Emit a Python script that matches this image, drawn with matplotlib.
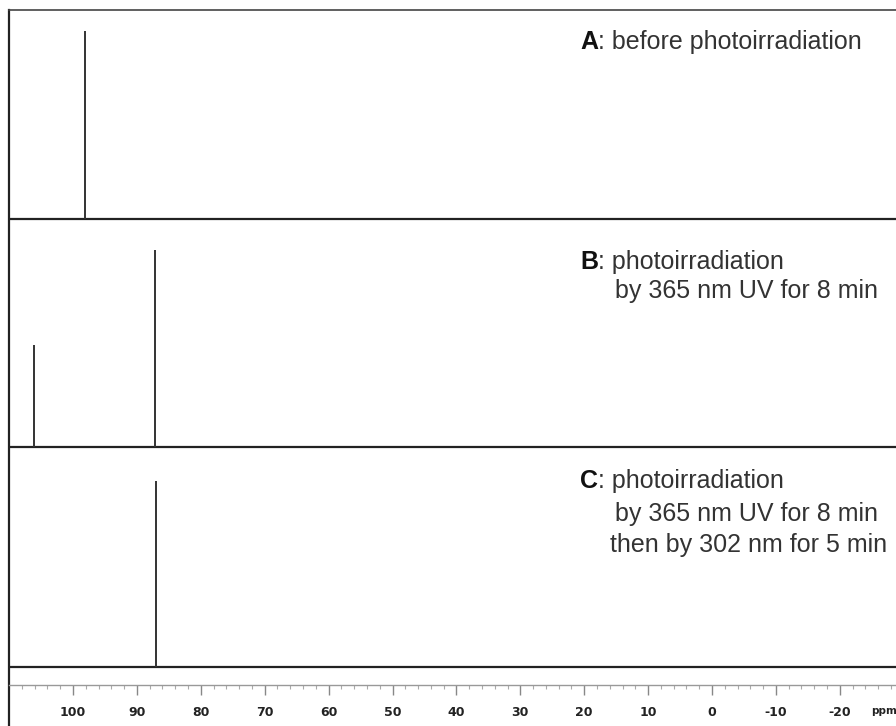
import matplotlib
matplotlib.use("Agg")
import matplotlib.pyplot as plt
from matplotlib.ticker import MultipleLocator

# 31P NMR traces, stacked (chemical shift in ppm, intensity in arb. units)
trace_names = ["A", "B", "C"]
trace_offsets = [448, 220, 0]
peak_shifts = [[98.1], [106.1, 87.2], [87.0]]
peak_heights = [[188], [102, 197], [186]]

trace_notes = [
    ["before photoirradiation"],
    ["photoirradiation", "by 365 nm UV for 8 min"],
    ["photoirradiation", "by 365 nm UV for 8 min", "then by 302 nm for 5 min"],
]
note_indent = [[0], [0, 35], [0, 35, 30]]
note_rows = [[42], [262, 291], [481, 514, 545]]

ppm_ticks = [100, 90, 80, 70, 60, 50, 40, 30, 20, 10, 0, -10, -20]
ppm_labels = ["100", "90", "80", "70", "60", "50", "40", "30", "20", "10", "0", "-10", "-20"]

W, H = 896, 726
fig = plt.figure(figsize=(W / 100, H / 100), dpi=100)
ax = fig.add_axes([8.5 / W, 0, 1 - 8.5 / W, 716 / H])

ax.set_xlim(110.1, -28.8)
ax.set_ylim(-59, 657)

for off, shifts, heights in zip(trace_offsets, peak_shifts, peak_heights):
    ax.axhline(off, color="#222222", lw=1.6)
    ax.vlines(shifts, off, [off + h for h in heights], color="#333333", lw=1.4)

# label block on the right of each trace
fs = 18
text_x = 580 / W
for i, (name, lines) in enumerate(zip(trace_names, trace_notes)):
    for j, line in enumerate(lines):
        y = 1 - note_rows[i][j] / H
        if j == 0:
            letter = ax.text(text_x, y, name, transform=fig.transFigure, fontsize=fs,
                             fontweight="bold", family="Liberation Sans",
                             color="#111111", va="center", ha="left")
            ax.annotate(": " + line, xy=(1, 0.5), xycoords=letter, fontsize=fs,
                        family="Liberation Sans", color="#333333",
                        va="center", ha="left")
        else:
            ax.text(text_x + note_indent[i][j] / W, y, line, transform=fig.transFigure,
                    fontsize=fs, family="Liberation Sans", color="#333333",
                    va="center", ha="left")

# ppm scale
ax.spines["right"].set_visible(False)
ax.spines["top"].set_linewidth(1.2)
ax.spines["top"].set_color("#444444")
ax.spines["left"].set_linewidth(1.6)
ax.spines["left"].set_color("#222222")
ax.spines["bottom"].set_position(("data", -18))
ax.spines["bottom"].set_color("#999999")
ax.spines["bottom"].set_linewidth(1.0)

ax.set_xticks(ppm_ticks)
ax.set_xticklabels(ppm_labels, fontsize=9, fontweight="bold",
                   family="DejaVu Sans", color="#222222")
ax.xaxis.set_minor_locator(MultipleLocator(2))
ax.tick_params(axis="x", which="major", direction="out", length=7, width=1.0,
               color="#888888", pad=8)
ax.tick_params(axis="x", which="minor", direction="out", length=3, width=0.8,
               color="#aaaaaa")
ax.set_yticks([])
ax.text(871 / W, 1 - 711 / H, "ppm", transform=fig.transFigure, fontsize=7.5,
        fontweight="bold", family="DejaVu Sans", color="#222222",
        va="center", ha="left")

fig.savefig("out.png", dpi=100)
